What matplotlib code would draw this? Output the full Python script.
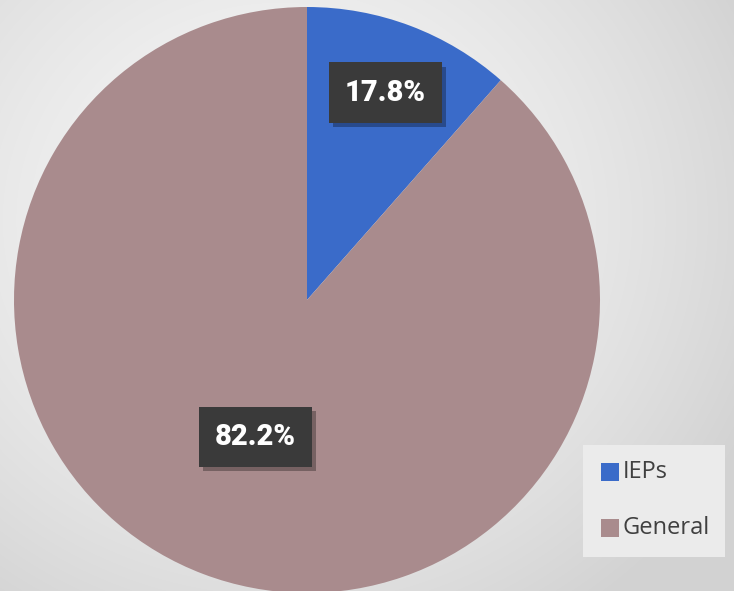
import numpy as np
import matplotlib
matplotlib.use("Agg")
import matplotlib.pyplot as plt
import matplotlib.patheffects as pe
from matplotlib.patches import Rectangle

# Data (labels as printed; wedge shares as drawn in the reference)
categories = ["IEPs", "General"]
label_text = ["17.8%", "82.2%"]
drawn_shares = [11.5, 88.5]
colors = ["#3a6bc9", "#a98b8d"]

W, H, DPI = 734, 591, 100
fig = plt.figure(figsize=(W / DPI, H / DPI), dpi=DPI)

# background radial gradient
bg = fig.add_axes([0, 0, 1, 1])
yy, xx = np.mgrid[0:H, 0:W]
d = np.sqrt(((xx - 280) / 520.0) ** 2 + ((yy - 220) / 480.0) ** 2)
d = np.clip(d, 0, 1)
val = 0.965 - 0.14 * d ** 1.6
img = np.dstack([val, val, val])
bg.imshow(img, extent=[0, W, H, 0], aspect="auto")
bg.set_xlim(0, W)
bg.set_ylim(H, 0)
bg.axis("off")

# legend box
bg.add_patch(Rectangle((583, 445), 142, 112, facecolor="#ebebeb", edgecolor="none"))

cx, cy, r = 307, 300, 293
ax = fig.add_axes([(cx - r) / W, (H - cy - r) / H, 2 * r / W, 2 * r / H])
wedges, _ = ax.pie(drawn_shares, colors=colors, startangle=90, counterclock=False,
                   radius=1.0, wedgeprops=dict(linewidth=0))
ax.set_xlim(-1, 1)
ax.set_ylim(-1, 1)
ax.set_aspect("auto")
ax.axis("off")

dists = [0.757, 0.50]
for w, txt, dist in zip(wedges, label_text, dists):
    ang = np.deg2rad((w.theta1 + w.theta2) / 2)
    x, y = dist * np.cos(ang), dist * np.sin(ang)
    t = ax.text(x, y, txt, ha="center", va="center", color="white",
                fontsize=21, fontweight="heavy", family="Roboto",
                bbox=dict(boxstyle="square,pad=0.55", facecolor="#3a3a3a",
                          edgecolor="none"))
    t.get_bbox_patch().set_path_effects(
        [pe.withSimplePatchShadow(offset=(3, -3), shadow_rgbFace="black", alpha=0.3)])

# legend entries
for i, (cat, col) in enumerate(zip(categories, colors)):
    yc = 472 + i * 56
    bg.add_patch(Rectangle((601, yc - 9), 18, 18, facecolor=col, edgecolor="none"))
    bg.text(623, yc, cat, ha="left", va="center", fontsize=17, color="#404040",
            family="Open Sans")

fig.savefig("out.png", dpi=DPI)
